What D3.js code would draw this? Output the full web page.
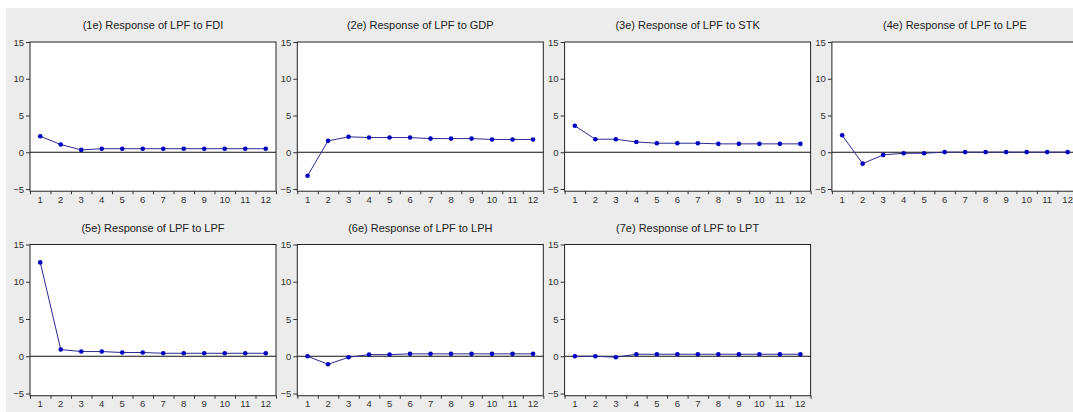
<!DOCTYPE html>
<html>
<head>
<meta charset="utf-8">
<script src="https://cdn.jsdelivr.net/npm/d3@7"></script>
<style>
  body { margin: 0; background: #fff; }
  svg { display: block; }
  .tick text { font-family: "Liberation Sans", Arial, sans-serif; font-size: 9.5px; fill: #333; }
</style>
</head>
<body>
<svg id="chart" width="1073" height="412"></svg>
<script>
// periods on the x axis
var periods = [1,2,3,4,5,6,7,8,9,10,11,12];
var yTicks = [-5, 0, 5, 10, 15];

var titles = [
  "(1e) Response of LPF to FDI",
  "(2e) Response of LPF to GDP",
  "(3e) Response of LPF to STK",
  "(4e) Response of LPF to LPE",
  "(5e) Response of LPF to LPF",
  "(6e) Response of LPF to LPH",
  "(7e) Response of LPF to LPT"
];

// impulse responses
var fdi = [2.18, 1.05, 0.32, 0.48, 0.48, 0.48, 0.48, 0.48, 0.48, 0.48, 0.48, 0.48];
var gdp = [-3.2, 1.55, 2.1, 2.0, 2.0, 2.0, 1.86, 1.86, 1.86, 1.74, 1.74, 1.74];
var stk = [3.6, 1.77, 1.77, 1.4, 1.23, 1.23, 1.23, 1.14, 1.14, 1.14, 1.14, 1.14];
var lpe = [2.32, -1.55, -0.36, -0.14, -0.14, 0.02, 0.02, 0.02, 0.02, 0.02, 0.02, 0.02];
var lpf = [12.6, 0.9, 0.63, 0.63, 0.5, 0.5, 0.4, 0.4, 0.4, 0.4, 0.4, 0.4];
var lph = [0.0, -1.08, -0.14, 0.22, 0.22, 0.32, 0.32, 0.32, 0.32, 0.32, 0.32, 0.32];
var lpt = [0.0, 0.0, -0.13, 0.27, 0.27, 0.27, 0.27, 0.27, 0.27, 0.27, 0.27, 0.27];

var series = [fdi, gdp, stk, lpe, lpf, lph, lpt];

var svg = d3.select("#chart");

// gray window background
svg.append("rect")
   .attr("x", 6).attr("y", 8)
   .attr("width", 1073).attr("height", 412)
   .attr("fill", "#ececec");

var colStep = 267.3, rowTops = [42, 244.5], rowH = [147, 149];
var w = 246;

series.forEach(function(vals, i){
    var col = i % 4, row = Math.floor(i / 4);
    var left = 30 + col * colStep;
    var top = rowTops[row];
    var h = rowH[row];

    var g = svg.append("g").attr("transform", "translate(" + left + "," + top + ")");

    var x = d3.scaleBand().domain(periods).range([0, w]);
    var xb = d3.scaleLinear().domain([0.5, 12.5]).range([0, w]);
    var y = d3.scaleLinear().domain([-5, 15]).range([h, 0]);
    var bottom = y(-5.3);

    g.append("rect")
     .attr("x", 0).attr("y", 0)
     .attr("width", w).attr("height", bottom)
     .attr("fill", "#fff")
     .attr("stroke", "#222")
     .attr("stroke-width", 1);

    // zero line
    g.append("line")
     .attr("x1", 0).attr("x2", w)
     .attr("y1", y(0)).attr("y2", y(0))
     .attr("stroke", "#111").attr("stroke-width", 1);

    var ya = g.append("g")
      .call(d3.axisLeft(y).tickValues(yTicks).tickSize(4).tickPadding(2));
    ya.select(".domain").remove();
    ya.selectAll("line").attr("stroke", "#333");

    // boundary tick marks
    var xt = g.append("g")
      .attr("transform", "translate(0," + bottom + ")")
      .call(d3.axisBottom(xb).tickValues(d3.range(0.5, 13, 1)).tickSize(3).tickFormat(""));
    xt.select(".domain").remove();
    xt.selectAll("line").attr("stroke", "#333");

    // period labels
    var xl = g.append("g")
      .attr("transform", "translate(0," + bottom + ")")
      .call(d3.axisBottom(x).tickSize(0).tickPadding(5));
    xl.select(".domain").remove();

    var line = d3.line()
        .x(function(d, j){ return x(periods[j]) + x.bandwidth() / 2; })
        .y(function(d){ return y(d); });

    g.append("path")
     .datum(vals)
     .attr("d", line)
     .attr("fill", "none")
     .attr("stroke", "#2a2a90")
     .attr("stroke-width", 1);

    g.selectAll("circle.pt")
     .data(vals)
     .enter().append("circle")
     .attr("class", "pt")
     .attr("cx", function(d, j){ return x(periods[j]) + x.bandwidth() / 2; })
     .attr("cy", function(d){ return y(d); })
     .attr("r", 2.3)
     .attr("fill", "#0000c0");

    svg.append("text")
     .attr("x", left + w / 2)
     .attr("y", top - 13)
     .attr("text-anchor", "middle")
     .style("font-family", "Liberation Sans, Arial, sans-serif")
     .style("font-size", "11px")
     .style("fill", "#222")
     .text(titles[i]);
});
</script>
</body>
</html>
